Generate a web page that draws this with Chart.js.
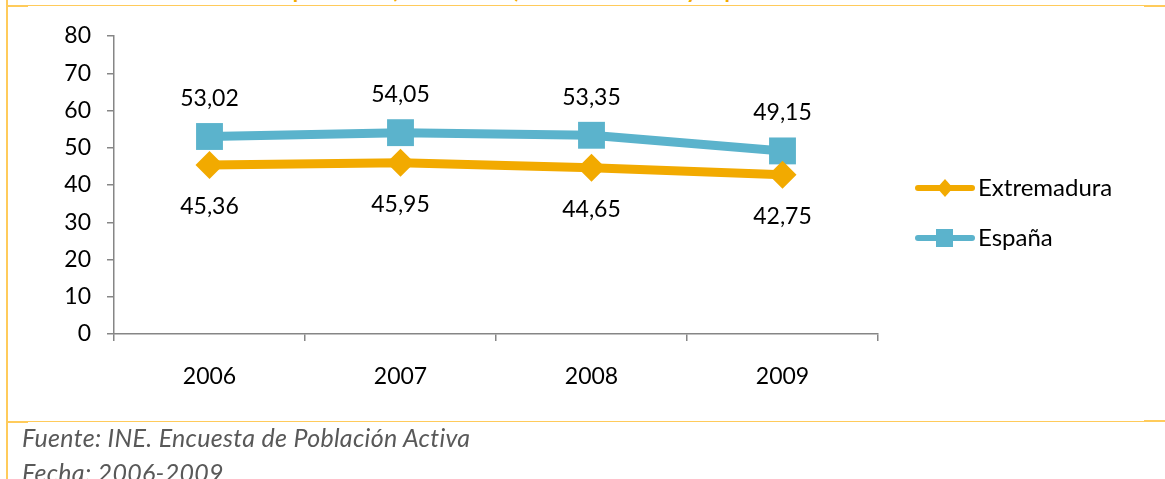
<!DOCTYPE html>
<html>
<head>
<meta charset="utf-8">
<script src="https://cdn.jsdelivr.net/npm/chart.js@4"></script>
<style>
  html, body { margin: 0; padding: 0; background: #fff; }
  #wrap { position: relative; width: 1165px; height: 479px; overflow: hidden; font-family: Lato, sans-serif; }
  #chart1 { position: absolute; left: 0; top: 0; }
  .bar { position: absolute; background: #FFCB5B; }
  #title { position: absolute; left: 185px; top: -23px; font-size: 22px; line-height: 26px; font-weight: bold; color: #F2AA00; white-space: nowrap; }
  .note { position: absolute; left: 22px; font-size: 25px; letter-spacing: 0.3px; font-style: italic; color: #595959; white-space: nowrap; }
</style>
</head>
<body>
<div id="wrap">
  <!-- the source image cuts the title off, only the bottoms of a few letters show;
       this wording is a guess that puts descenders in roughly the same places -->
  <div id="title">Tasa de empleo total (media anual) en Extremadura y España</div>
  <div class="bar" style="left:6px; top:0; width:2px; height:479px;"></div>
  <div class="bar" style="left:7px; top:5px; width:1158px; height:1px;"></div>
  <div class="bar" style="left:7px; top:5px; width:21px; height:2px;"></div>
  <div class="bar" style="left:1144px; top:5px; width:21px; height:2px;"></div>
  <div class="bar" style="left:7px; top:421px; width:1158px; height:1px;"></div>
  <div class="bar" style="left:7px; top:421px; width:21px; height:2px;"></div>
  <div class="bar" style="left:1144px; top:420px; width:21px; height:2px;"></div>
  <canvas id="chart1" width="1165" height="479"></canvas>
  <div class="note" style="top:422px;">Fuente: INE. Encuesta de Población Activa</div>
  <div class="note" style="top:457px;">Fecha: 2006-2009</div>
</div>
<script>
const years = ["2006", "2007", "2008", "2009"];
const extremadura = [45.36, 45.95, 44.65, 42.75];
const espana = [53.02, 54.05, 53.35, 49.15];
const seriesNames = ["Extremadura", "España"];

const orange = '#F2AA00';
const blue = '#5BB3CC';
const axisGrey = '#868686';

function fmt(v) {
    return v.toFixed(2).replace('.', ',');
}

// value labels: España above the point, Extremadura below
const valueLabels = {
    id: 'valueLabels',
    afterDatasetsDraw(chart) {
        const ctx = chart.ctx;
        ctx.save();
        ctx.font = '23px Lato';
        ctx.fillStyle = '#000';
        ctx.textAlign = 'center';
        ctx.textBaseline = 'middle';
        chart.data.datasets.forEach(function(ds, i) {
            const meta = chart.getDatasetMeta(i);
            meta.data.forEach(function(pt, j) {
                const dy = ds.labelPos === 'above' ? -38 : 42;
                ctx.fillText(fmt(ds.data[j]), pt.x, pt.y + dy);
            });
        });
        ctx.restore();
    }
};

// legend on the right, line with marker like the original
const sideLegend = {
    id: 'sideLegend',
    afterDraw(chart) {
        const ctx = chart.ctx;
        const x0 = 918, x1 = 972, tx = 978;
        const rows = [188, 238];
        ctx.save();
        chart.data.datasets.forEach(function(ds, i) {
            const y = rows[i];
            ctx.strokeStyle = ds.borderColor;
            ctx.lineWidth = 6;
            ctx.lineCap = 'round';
            ctx.beginPath();
            ctx.moveTo(x0, y);
            ctx.lineTo(x1, y);
            ctx.stroke();
            ctx.fillStyle = ds.borderColor;
            ctx.beginPath();
            if (ds.pointStyle === 'rectRot') {
                ctx.moveTo(945, y - 9);
                ctx.lineTo(953, y);
                ctx.lineTo(945, y + 9);
                ctx.lineTo(937, y);
                ctx.closePath();
            } else {
                ctx.rect(936, y - 9, 17, 18);
            }
            ctx.fill();
            ctx.fillStyle = '#000';
            ctx.font = '24px Lato';
            ctx.textAlign = 'left';
            ctx.textBaseline = 'middle';
            ctx.fillText(ds.label, tx, y);
        });
        ctx.restore();
    }
};

const chart1 = new Chart(document.getElementById('chart1'), {
    type: 'line',
    data: {
        labels: years,
        datasets: [{
            label: seriesNames[0],
            data: extremadura,
            borderColor: orange,
            backgroundColor: orange,
            borderWidth: 9,
            pointStyle: 'rectRot',
            pointRadius: 14,
            pointBorderWidth: 0,
            tension: 0,
            labelPos: 'below'
        }, {
            label: seriesNames[1],
            data: espana,
            borderColor: blue,
            backgroundColor: blue,
            borderWidth: 9,
            pointStyle: 'rect',
            pointRadius: 19,
            pointBorderWidth: 0,
            tension: 0,
            labelPos: 'above'
        }]
    },
    options: {
        responsive: false,
        animation: false,
        layout: {
            padding: { left: 0, top: 36, right: 287, bottom: 85 }
        },
        plugins: {
            legend: { display: false },
            tooltip: { enabled: false }
        },
        scales: {
            x: {
                offset: true,
                afterFit(scale) { scale.height = 60; },
                grid: {
                    offset: true,
                    drawOnChartArea: false,
                    color: axisGrey,
                    tickLength: 7,
                    lineWidth: 1.5
                },
                border: { color: axisGrey, width: 1.5 },
                ticks: {
                    color: '#000',
                    font: { family: 'Lato', size: 23 },
                    padding: 22,
                    maxRotation: 0
                }
            },
            y: {
                min: 0,
                max: 80,
                afterFit(scale) { scale.width = 114; },
                grid: {
                    drawOnChartArea: false,
                    color: axisGrey,
                    tickLength: 7,
                    lineWidth: 1.5
                },
                border: { color: axisGrey, width: 1.5 },
                ticks: {
                    stepSize: 10,
                    color: '#000',
                    font: { family: 'Lato', size: 23 },
                    padding: 16
                }
            }
        }
    },
    plugins: [valueLabels, sideLegend]
});
</script>
</body>
</html>
